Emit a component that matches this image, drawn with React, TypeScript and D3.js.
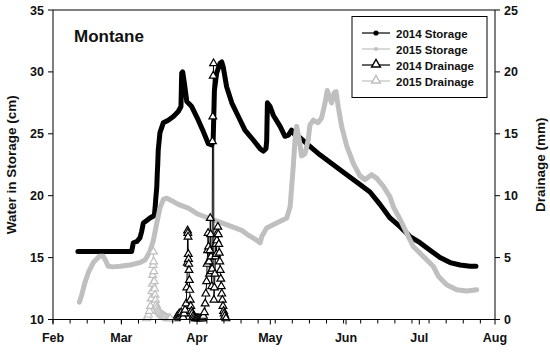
import React from "react";
import * as d3 from "d3";

// days are day-of-year (2014 calendar, non leap)
const storage2014Day = [42.2, 64.2, 64.9, 66.3, 67.6, 68.3, 69.0, 70.4, 71.7, 73.5, 73.8, 74.1, 74.5, 74.7, 74.9, 75.1, 75.8, 77.2, 79.2, 81.3, 83.3, 84.4, 84.7, 85.1, 85.8, 86.8, 88.8, 91.5, 93.5, 95.6, 97.0, 97.6, 98.1, 99.0, 100.4, 101.1, 101.7, 103.1, 105.2, 107.9, 110.6, 114.0, 116.8, 118.1, 119.2, 119.5, 119.8, 120.9, 122.2, 125.0, 127.0, 128.4, 129.7, 131.1, 133.1, 135.9, 141.3, 146.8, 152.3, 157.7, 161.8, 165.9, 170.0, 174.1, 178.2, 182.3, 186.4, 190.5, 194.6, 198.7, 202.8, 205.2];
const storage2014Cm = [15.5, 15.5, 16.2, 16.3, 16.6, 17.1, 17.8, 18.0, 18.2, 18.4, 19.0, 19.8, 20.7, 21.8, 22.6, 23.7, 25.1, 25.9, 26.1, 26.4, 26.8, 27.2, 29.9, 30.0, 29.1, 27.6, 27.2, 26.1, 25.2, 24.2, 24.1, 24.5, 28.5, 29.9, 30.7, 30.8, 30.4, 28.8, 27.5, 26.4, 25.3, 24.5, 23.8, 23.6, 23.8, 24.4, 27.5, 27.2, 26.5, 25.6, 24.8, 24.9, 25.3, 24.9, 24.7, 24.2, 23.3, 22.5, 21.7, 20.9, 20.3, 19.3, 18.2, 17.5, 16.7, 16.2, 15.6, 15.0, 14.6, 14.4, 14.3, 14.3];

const storage2015Day = [42.8, 43.8, 45.1, 46.5, 48.5, 51.0, 52.6, 53.7, 54.6, 56.7, 59.4, 63.5, 67.6, 69.7, 71.7, 73.1, 74.5, 75.8, 77.2, 78.6, 80.6, 83.3, 87.4, 91.5, 95.6, 101.1, 105.2, 109.3, 111.3, 114.7, 116.8, 117.5, 119.5, 123.6, 127.7, 129.1, 129.7, 130.4, 131.1, 131.8, 132.9, 133.8, 135.2, 136.5, 137.2, 138.6, 140.6, 142.0, 143.4, 144.3, 145.1, 146.1, 147.1, 147.9, 148.8, 150.2, 152.3, 155.0, 157.7, 159.8, 162.5, 164.6, 167.3, 170.0, 171.4, 174.1, 176.8, 179.5, 183.6, 187.7, 189.8, 193.2, 197.3, 201.4, 205.5];
const storage2015Cm = [11.4, 12.0, 13.0, 13.8, 14.6, 15.1, 15.1, 14.7, 14.3, 14.25, 14.3, 14.4, 14.6, 14.8, 15.5, 16.4, 17.8, 19.0, 19.7, 19.8, 19.6, 19.3, 19.0, 18.5, 18.2, 17.8, 17.5, 17.2, 16.9, 16.5, 16.2, 16.7, 17.4, 17.8, 18.2, 19.1, 20.6, 22.4, 24.5, 25.6, 24.4, 23.2, 23.4, 24.5, 25.7, 26.1, 25.9, 26.3, 27.5, 28.5, 28.0, 27.5, 28.3, 28.4, 27.2, 25.6, 24.0, 22.6, 21.6, 21.3, 21.7, 21.4, 20.75, 19.9, 19.1, 18.1, 17.0, 15.9, 15.1, 14.3, 13.5, 12.8, 12.4, 12.3, 12.4];

const drain2014Day = [82.5, 82.9, 83.3, 83.7, 84.1, 84.5, 84.9, 85.3, 85.7, 86.1, 86.5, 86.8, 87.0, 87.1, 87.2, 87.3, 87.4, 87.5, 87.6, 87.7, 87.85, 88.0, 88.2, 88.4, 88.7, 89.0, 89.4, 89.8, 90.2, 90.7, 91.2, 91.7, 92.2, 92.7, 93.2,
  93.6, 94.0, 94.3, 94.6, 94.9, 95.1, 95.3, 95.5, 95.7, 95.9, 96.1, 96.25, 96.4, 96.55, 96.7, 96.85, 97.0, 97.15, 97.3, 97.45, 97.6, 97.75, 97.9, 98.1, 98.3, 98.5, 98.7, 98.9, 99.1, 99.3, 99.5, 99.7, 99.9, 100.1, 100.3, 100.5, 100.7, 100.9, 101.1, 101.35, 101.6, 101.85, 102.1, 102.4, 102.8];
const drain2014Mm = [0, 0.2, 0.1, 0.4, 0.2, 0.5, 0.3, 0.1, 0.4, 0.7, 1.2, 2.5, 4.5, 7.1, 6.9, 6.6, 5.2, 4.8, 4.4, 3.9, 3.1, 2.3, 1.5, 1.0, 0.6, 0.4, 0.2, 0.1, 0, 0, 0, 0, 0, 0, 0,
  0.2, 0.5, 1.2, 2.0, 3.0, 4.4, 5.5, 6.9, 5.8, 4.6, 3.6, 5.5, 8.1, 6.8, 5.0, 3.8, 2.6, 4.0, 14.3, 16.3, 19.6, 20.6, 1.5, 2.5, 3.6, 5.0, 6.0, 5.2, 6.3, 6.9, 7.4, 6.8, 6.0, 5.3, 4.6, 3.9, 3.2, 2.6, 2.0, 1.5, 1.0, 0.6, 0.4, 0.2, 0];

const drain2015Day = [70.3, 70.7, 71.1, 71.5, 71.9, 72.2, 72.5, 72.7, 72.85, 73.0, 73.1, 73.2, 73.3, 73.45, 73.6, 73.8, 74.0, 74.3, 74.6, 74.9, 75.2, 75.6, 76.0, 76.4, 76.8, 77.2, 77.6, 78.0, 78.5, 79.0, 79.5, 80.0];
const drain2015Mm = [0, 0.1, 0.3, 0.6, 1.0, 1.6, 2.2, 2.8, 3.5, 4.3, 5.4, 4.6, 3.8, 3.0, 2.4, 1.9, 1.5, 1.1, 0.9, 0.7, 0.6, 0.5, 0.4, 0.3, 0.25, 0.2, 0.15, 0.1, 0.05, 0, 0, 0];

const cmTicks = [10, 15, 20, 25, 30, 35];
const mmTicks = [0, 5, 10, 15, 20, 25];
const legendLabels = ["2014 Storage", "2015 Storage", "2014 Drainage", "2015 Drainage"];

const GRAY = "#bfbfbf";
const FONT = "'Liberation Sans', Arial, sans-serif";

const toDate = (doy: number) => new Date(Date.UTC(2014, 0, 1) + (doy - 1) * 864e5);

export default function App() {
  const width = 550, height = 352;
  const left = 53, right = 495, top = 10, bottom = 319.5;

  const x = d3.scaleUtc()
    .domain([new Date(Date.UTC(2014, 1, 1)), new Date(Date.UTC(2014, 7, 1))])
    .range([left, right]);
  const yL = d3.scaleLinear().domain([10, 35]).range([bottom, top]);
  const yR = d3.scaleLinear().domain([0, 25]).range([bottom, top]);

  const months = d3.utcMonth.range(x.domain()[0], new Date(Date.UTC(2014, 7, 2)));
  const weeks = d3.utcSaturday.range(x.domain()[0], new Date(Date.UTC(2014, 7, 2)));
  const fmt = d3.utcFormat("%b");

  const pts = (days: number[], vals: number[]) => days.map((d, i) => [d, vals[i]] as [number, number]);
  const lineL = d3.line<[number, number]>().x(d => x(toDate(d[0]))).y(d => yL(d[1]));
  const lineR = d3.line<[number, number]>().x(d => x(toDate(d[0]))).y(d => yR(d[1]));
  const tri = d3.symbol(d3.symbolTriangle, 26)()!;
  const triLeg = d3.symbol(d3.symbolTriangle, 34)()!;

  const s14 = pts(storage2014Day, storage2014Cm);
  const s15 = pts(storage2015Day, storage2015Cm);
  const d14 = pts(drain2014Day, drain2014Mm);
  const d15 = pts(drain2015Day, drain2015Mm);

  const legY = [33, 49, 65, 81];

  return (
    <svg width={width} height={height} style={{ position: "absolute", left: 0, top: 0, background: "#fff" }}
      fontFamily={FONT} fontWeight="bold">
      {/* storage lines */}
      <path d={lineL(s14)!} fill="none" stroke="#000" strokeWidth={5} strokeLinejoin="round" strokeLinecap="round" />
      <path d={lineL(s15)!} fill="none" stroke={GRAY} strokeWidth={5} strokeLinejoin="round" strokeLinecap="round" />

      {/* drainage */}
      <path d={lineR(d14)!} fill="none" stroke="#000" strokeWidth={1} />
      {d14.map((d, i) => (
        <path key={"a" + i} d={tri} transform={`translate(${x(toDate(d[0]))},${yR(d[1]) - 1})`}
          fill="#fff" stroke="#000" strokeWidth={1.2} />
      ))}
      <path d={lineR(d15)!} fill="none" stroke={GRAY} strokeWidth={1} />
      {d15.map((d, i) => (
        <path key={"b" + i} d={tri} transform={`translate(${x(toDate(d[0]))},${yR(d[1]) - 1})`}
          fill="#fff" stroke={GRAY} strokeWidth={1.2} />
      ))}

      {/* frame */}
      <line x1={left} x2={right} y1={top} y2={top} stroke="#000" />
      <line x1={left} x2={right} y1={bottom} y2={bottom} stroke="#000" />
      <line x1={left} x2={left} y1={top} y2={bottom} stroke="#000" />
      <line x1={right} x2={right} y1={top} y2={bottom} stroke="#000" />

      {/* x axis */}
      {weeks.map((w, i) => (
        <line key={"w" + i} x1={x(w)} x2={x(w)} y1={bottom} y2={bottom + 4} stroke="#000" />
      ))}
      {months.map((mo, i) => (
        <g key={"m" + i}>
          <line x1={x(mo)} x2={x(mo)} y1={bottom} y2={bottom + 5} stroke="#000" />
          <text x={x(mo)} y={bottom + 22} textAnchor="middle" fontSize={12.5} fill="#111">{fmt(mo)}</text>
        </g>
      ))}

      {/* left axis */}
      {cmTicks.map(t => (
        <g key={"l" + t}>
          <line x1={left - 5} x2={left} y1={yL(t)} y2={yL(t)} stroke="#000" />
          <text x={left - 9} y={yL(t) + 4.5} textAnchor="end" fontSize={12.5} fill="#111">{t}</text>
        </g>
      ))}
      <text transform={`translate(16,${(top + bottom) / 2}) rotate(-90)`} textAnchor="middle" fontSize={13.5} fill="#111">
        Water in Storage (cm)
      </text>

      {/* right axis */}
      {mmTicks.map(t => (
        <g key={"r" + t}>
          <line x1={right} x2={right + 5} y1={yR(t)} y2={yR(t)} stroke="#000" />
          <text x={right + 9} y={yR(t) + 4.5} textAnchor="start" fontSize={12.5} fill="#111">{t}</text>
        </g>
      ))}
      <text transform={`translate(545,${(top + bottom) / 2}) rotate(-90)`} textAnchor="middle" fontSize={13.5} fill="#111">
        Drainage (mm)
      </text>

      {/* title */}
      <text x={74} y={42} fontSize={17} fill="#111">Montane</text>

      {/* legend */}
      <rect x={352} y={16.5} width={135} height={81} fill="#fff" stroke="#000" />
      {legendLabels.map((lab, i) => {
        const c = i % 2 === 0 ? "#000" : GRAY;
        const ly = legY[i];
        return (
          <g key={lab}>
            <line x1={362} x2={390} y1={ly} y2={ly} stroke={c} strokeWidth={1.2} />
            {i < 2
              ? <circle cx={376} cy={ly} r={i === 0 ? 2.6 : 2} fill={c} />
              : <path d={triLeg} transform={`translate(376,${ly - 0.5})`} fill="#fff" stroke={c} strokeWidth={1.4} />}
            <text x={396} y={ly + 4.5} fontSize={11.5} fill="#111">{lab}</text>
          </g>
        );
      })}
    </svg>
  );
}
